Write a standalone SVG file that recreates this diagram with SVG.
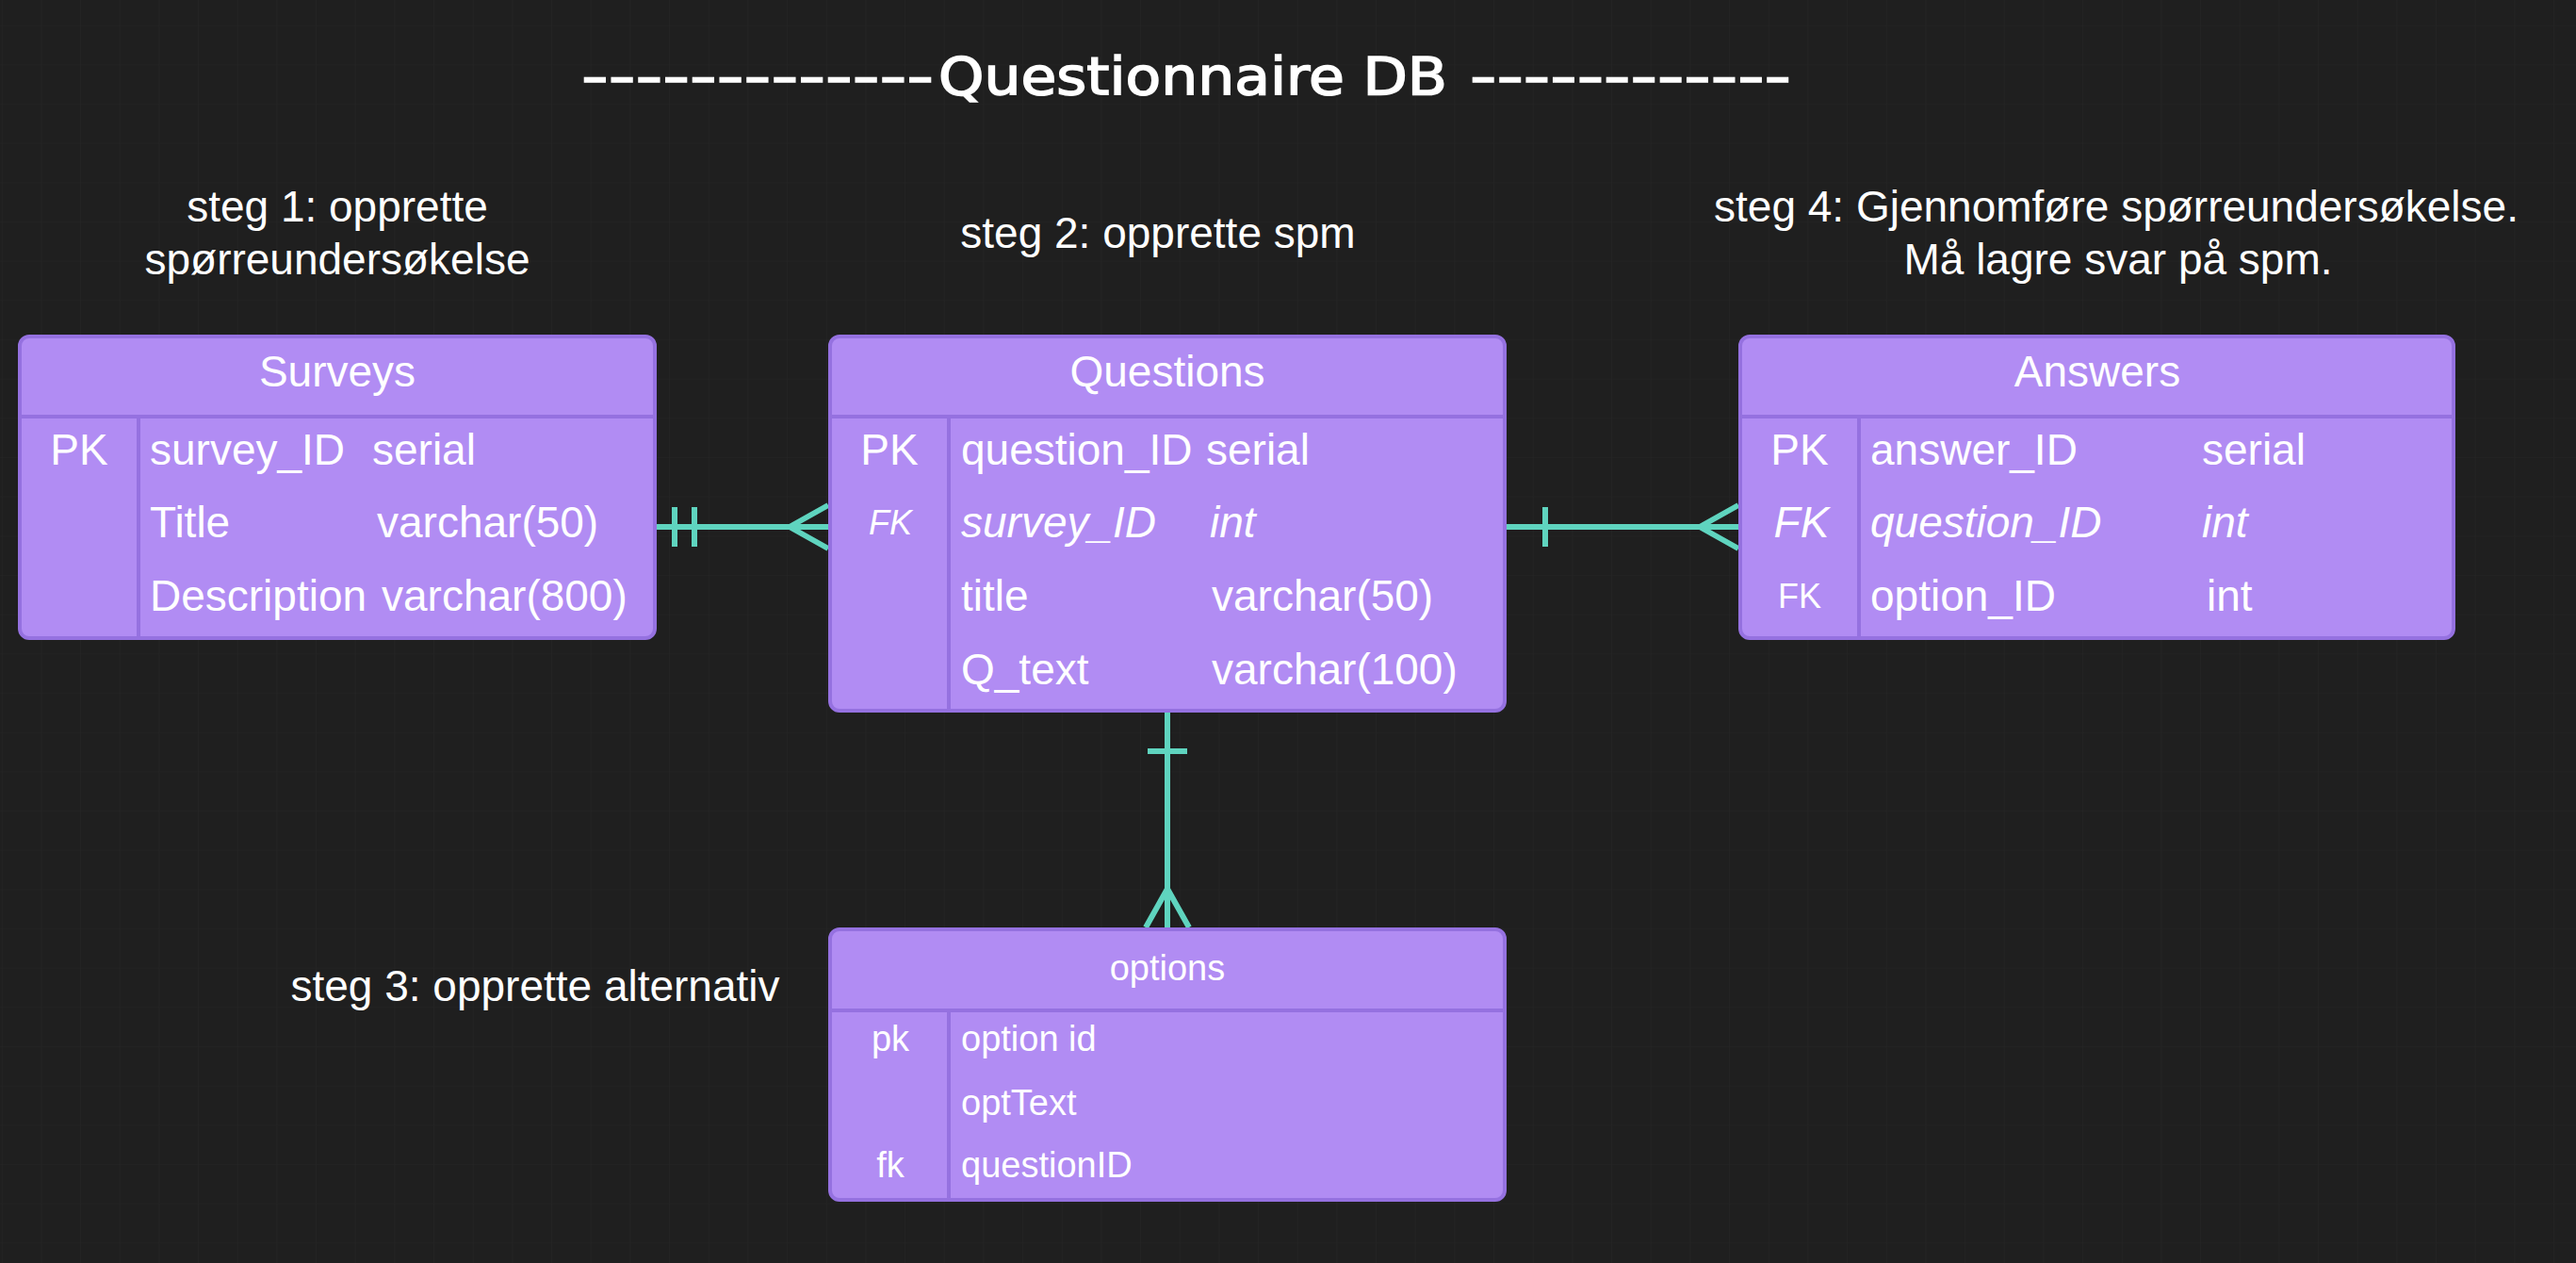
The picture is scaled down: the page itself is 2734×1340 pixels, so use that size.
<svg xmlns="http://www.w3.org/2000/svg" width="2734" height="1340" viewBox="0 0 2734 1340">
<style>
  .bg { fill: #1f1f1f; }
  .box { fill: #b18cf3; stroke: #9571e0; stroke-width: 4; }
  .div { stroke: #9571e0; stroke-width: 4; fill: none; }
  .t { font-family: "Liberation Sans", Arial, sans-serif; fill: #ffffff; font-size: 46px; }
  .s { font-size: 38px; }
  .k { text-anchor: middle; }
  .i { font-style: italic; }
  .fk { font-size: 36px; }
  .note { font-family: "Liberation Sans", Arial, sans-serif; fill: #ffffff; font-size: 46px; text-anchor: middle; }
  .title { font-family: "DejaVu Sans", sans-serif; fill: #ffffff; stroke: #ffffff; stroke-width: 1.6; font-size: 56px; }
  .conn { stroke: #5fd4bf; stroke-width: 6; fill: none; }
  .mk { stroke: #5fd4bf; stroke-width: 6; fill: none; }
</style>
<defs>
  <pattern id="grid" x="1.7" y="26.7" width="41.667" height="41.667" patternUnits="userSpaceOnUse">
    <path d="M0 0 H41.667 M0 0 V41.667" stroke="#252525" stroke-width="1.2" fill="none"/>
  </pattern>
  <marker id="many" viewBox="-50 -30 60 60" refX="0" refY="0" markerWidth="60" markerHeight="60" markerUnits="userSpaceOnUse" orient="auto" overflow="visible">
    <path class="mk" d="M-42 0 L-1 -23 M-42 0 L-1 23"/>
  </marker>
  <marker id="one" viewBox="-10 -30 60 60" refX="0" refY="0" markerWidth="60" markerHeight="60" markerUnits="userSpaceOnUse" orient="auto" overflow="visible">
    <path class="mk" d="M43 -21 L43 21"/>
  </marker>
  <marker id="onlyOne" viewBox="-10 -30 60 60" refX="0" refY="0" markerWidth="60" markerHeight="60" markerUnits="userSpaceOnUse" orient="auto" overflow="visible">
    <path class="mk" d="M21 -21 L21 21 M42 -21 L42 21"/>
  </marker>
</defs>
<rect class="bg" x="0" y="0" width="2734" height="1340"/>
<rect x="0" y="0" width="2734" height="1340" fill="url(#grid)"/>

<g id="title">
  <text class="title" y="100"><tspan x="617" textLength="374" lengthAdjust="spacingAndGlyphs">-------------</tspan><tspan x="996" textLength="540" lengthAdjust="spacingAndGlyphs">Questionnaire DB</tspan><tspan> </tspan><tspan x="1560" textLength="341" lengthAdjust="spacingAndGlyphs">------------</tspan></text>
</g>

<g id="notes">
  <text class="note" x="358" y="235">steg 1: opprette</text>
  <text class="note" x="358" y="291">spørreundersøkelse</text>
  <text class="note" x="1229" y="263">steg 2: opprette spm</text>
  <text class="note" x="2246" y="235">steg 4: Gjennomføre spørreundersøkelse.</text>
  <text class="note" x="2248" y="291">Må lagre svar på spm.</text>
  <text class="note" x="568" y="1062">steg 3: opprette alternativ</text>
</g>

<g id="connectors">
  <path class="conn" d="M695 559 H880" marker-start="url(#onlyOne)" marker-end="url(#many)"/>
  <path class="conn" d="M1597 559 H1846" marker-start="url(#one)" marker-end="url(#many)"/>
  <path class="conn" d="M1239 754 V985" marker-start="url(#one)" marker-end="url(#many)"/>
</g>

<g id="surveys">
  <rect class="box" x="21" y="357" width="674" height="320" rx="10"/>
  <path class="div" d="M21 442 H695 M147 442 V677"/>
  <text class="t k" x="358" y="410">Surveys</text>
  <text class="t k" x="84" y="493">PK</text>
  <text class="t" x="159" y="493">survey_ID</text>
  <text class="t" x="395" y="493">serial</text>
  <text class="t" x="159" y="570">Title</text>
  <text class="t" x="400" y="570">varchar(50)</text>
  <text class="t" x="159" y="648">Description</text>
  <text class="t" x="405" y="648">varchar(800)</text>
</g>

<g id="questions">
  <rect class="box" x="881" y="357" width="716" height="397" rx="10"/>
  <path class="div" d="M881 442 H1597 M1007 442 V754"/>
  <text class="t k" x="1239" y="410">Questions</text>
  <text class="t k" x="944" y="493">PK</text>
  <text class="t" x="1020" y="493">question_ID</text>
  <text class="t" x="1280" y="493">serial</text>
  <text class="t k i fk" x="945" y="567">FK</text>
  <text class="t i" x="1020" y="570">survey_ID</text>
  <text class="t i" x="1284" y="570">int</text>
  <text class="t" x="1020" y="648">title</text>
  <text class="t" x="1286" y="648">varchar(50)</text>
  <text class="t" x="1020" y="726">Q_text</text>
  <text class="t" x="1286" y="726">varchar(100)</text>
</g>

<g id="answers">
  <rect class="box" x="1847" y="357" width="757" height="320" rx="10"/>
  <path class="div" d="M1847 442 H2604 M1973 442 V677"/>
  <text class="t k" x="2226" y="410">Answers</text>
  <text class="t k" x="1910" y="493">PK</text>
  <text class="t" x="1985" y="493">answer_ID</text>
  <text class="t" x="2337" y="493">serial</text>
  <text class="t k i" x="1912" y="570">FK</text>
  <text class="t i" x="1985" y="570">question_ID</text>
  <text class="t i" x="2337" y="570">int</text>
  <text class="t k fk" x="1910" y="645">FK</text>
  <text class="t" x="1985" y="648">option_ID</text>
  <text class="t" x="2342" y="648">int</text>
</g>

<g id="options">
  <rect class="box" x="881" y="986" width="716" height="287" rx="10"/>
  <path class="div" d="M881 1072 H1597 M1007 1072 V1273"/>
  <text class="t s k" x="1239" y="1040">options</text>
  <text class="t s k" x="945" y="1115">pk</text>
  <text class="t s" x="1020" y="1115">option id</text>
  <text class="t s" x="1020" y="1183">optText</text>
  <text class="t s k" x="945" y="1249">fk</text>
  <text class="t s" x="1020" y="1249">questionID</text>
</g>
</svg>
